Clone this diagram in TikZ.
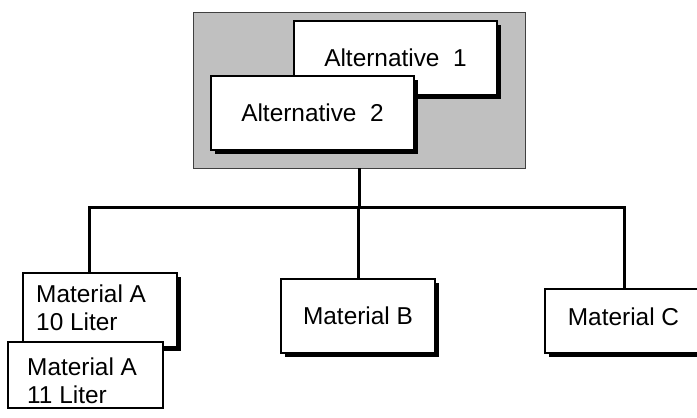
\documentclass[tikz,border=0pt]{standalone}
\usepackage{fontspec}
\setmainfont{Liberation Sans}
\usetikzlibrary{shadows}
\definecolor{panelgray}{HTML}{C0C0C0}
\begin{document}
\begin{tikzpicture}[x=1pt,y=-1pt,
  txt/.style={font=\fontsize{24.4}{28}\selectfont},
  box/.style={draw=black, line width=1.2pt, fill=white, inner sep=0pt, txt},
  shad/.style={general shadow={fill=black, shadow xshift=4pt, shadow yshift=-4pt}},
  conn/.style={line width=3pt},
  lbl/.style={txt, inner sep=0pt, align=left, anchor=north west}]
\useasboundingbox (0,0) rectangle (697,418);
% group panel
\node[draw=black!75, line width=0.8pt, fill=panelgray, inner sep=0pt,
      minimum width=332pt, minimum height=156pt] (grp) at (359,90) {};
\node[box, shad, minimum width=203pt, minimum height=74pt] (alt1) at (395.5,58) {Alternative\ \ 1};
\node[box, shad, minimum width=203pt, minimum height=74pt] (alt2) at (312.5,113) {Alternative\ \ 2};
% connectors
\coordinate (j) at (grp.south |- 0,207);
\coordinate (ja) at (89,207);
\coordinate (jc) at (624,207);
\node[box, shad, minimum width=154pt, minimum height=74pt] (a10) at (100,310) {};
\node[box, minimum width=155pt, minimum height=66pt] (a11) at (85.5,375) {};
\node[box, shad, minimum width=154pt, minimum height=74pt, text height=17.5pt, text depth=-2pt] (mb) at (358,316) {Material B};
\node[box, shad, minimum width=157pt, minimum height=64pt, text height=17.5pt, text depth=9.5pt] (mc) at (623.5,321) {Material C};
\draw[conn] (grp.south) -- (j);
\draw[conn] (a10.north -| ja) -- (ja) -- (jc) -- (mc.north -| jc);
\draw[conn] (mb.north) -- (mb.north |- j);
\node[lbl] (ta10) at (36,284.5) {Material A\\10 Liter};
\node[lbl] (ta11) at (27,357.5) {Material A\\11 Liter};
\end{tikzpicture}
\end{document}
